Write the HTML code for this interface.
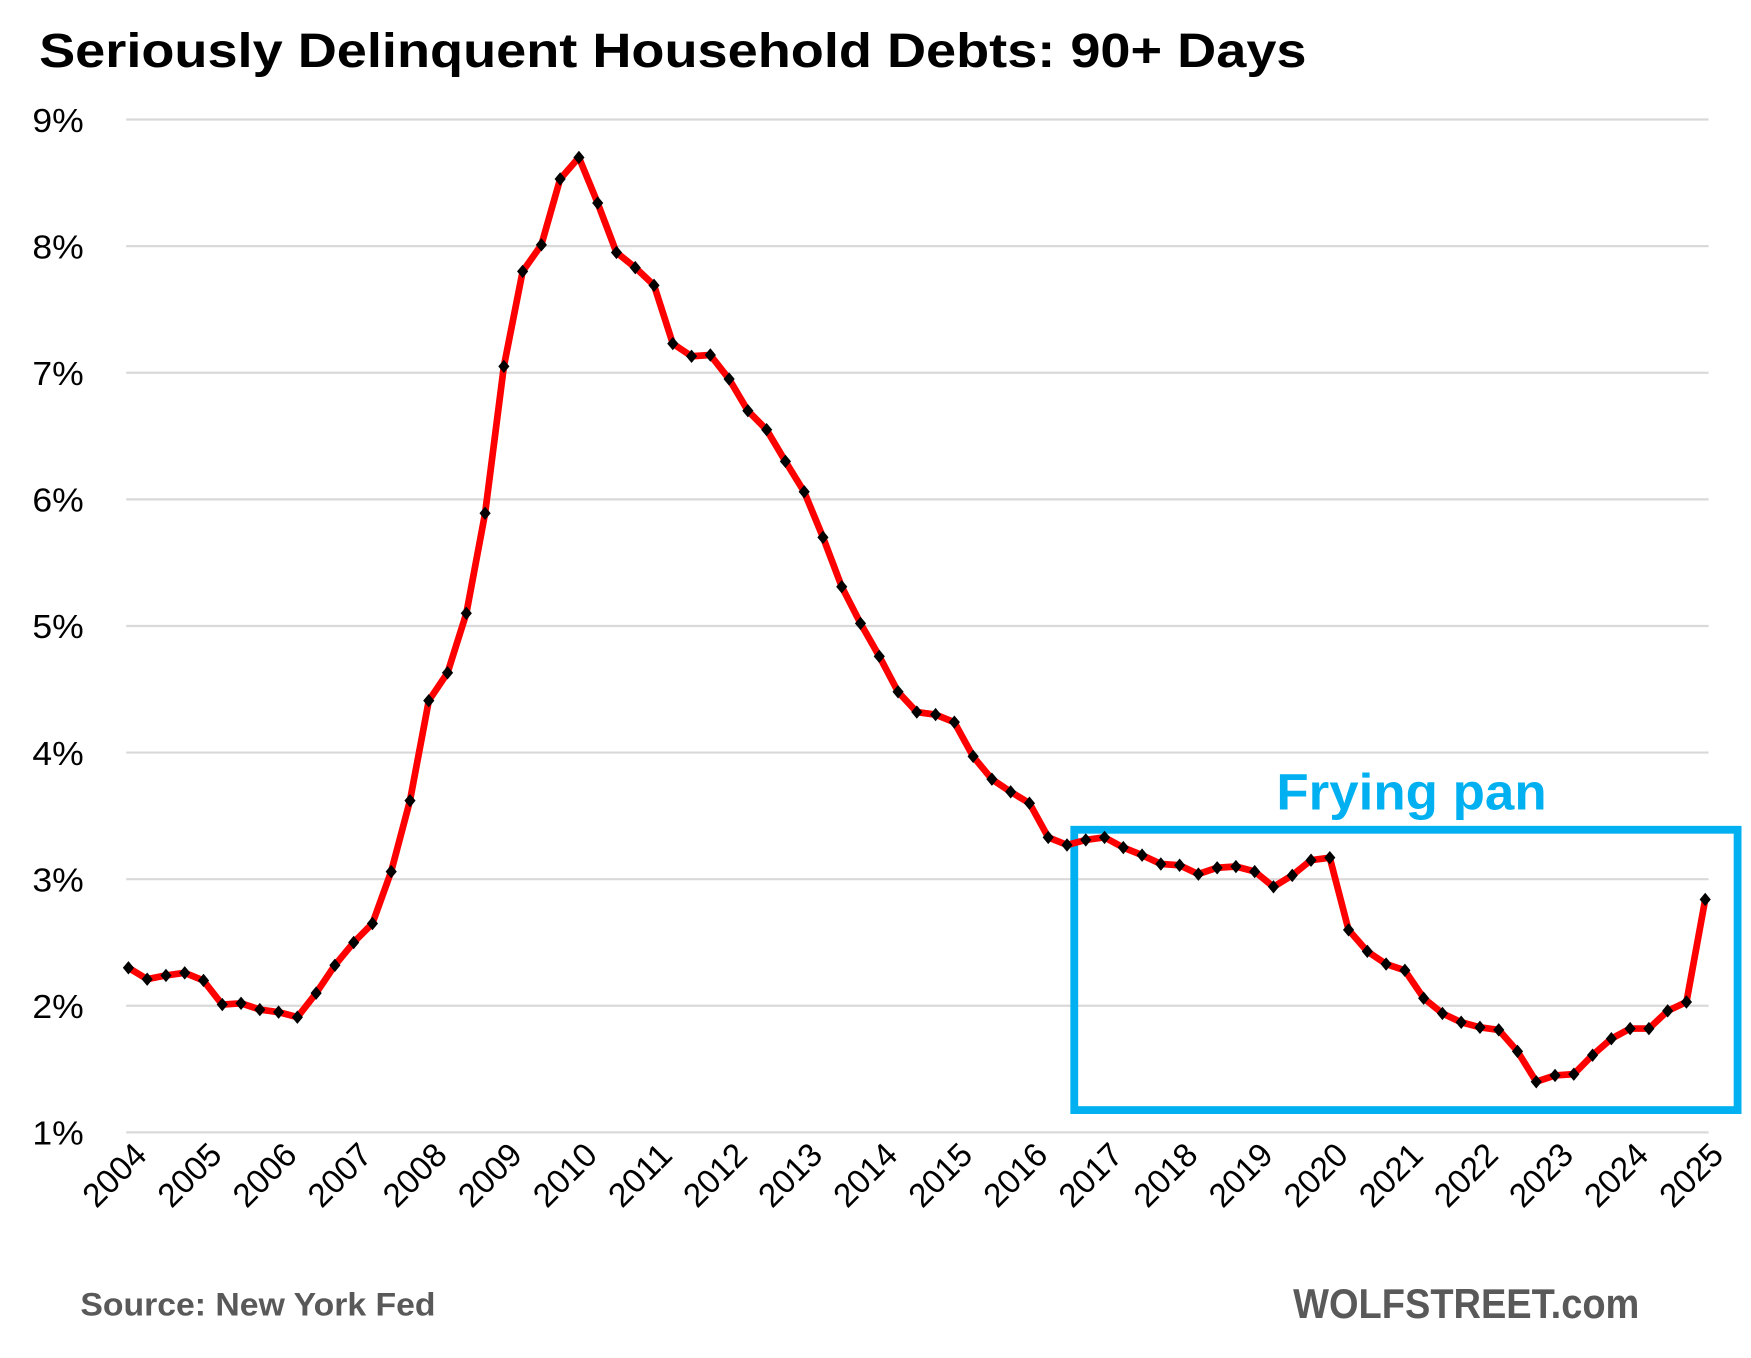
<!DOCTYPE html>
<html><head><meta charset="utf-8"><style>
html,body{margin:0;padding:0;background:#fff;}
svg{display:block;}
</style></head><body>
<svg id="c" width="1751" height="1358" viewBox="0 0 1568 1216" preserveAspectRatio="none" xmlns="http://www.w3.org/2000/svg" font-family="'Liberation Sans', sans-serif">
<text x="35" y="60" font-size="43" font-weight="bold" textLength="1135" lengthAdjust="spacingAndGlyphs" fill="#000">Seriously Delinquent Household Debts: 90+ Days</text>
<g id="grid" stroke="#d9d9d9" stroke-width="2"></g>
<g id="ylab" font-size="30" fill="#000" text-anchor="end"></g>
<g id="xlab" font-size="30" fill="#000" text-anchor="end"></g>
<rect x="962" y="743" width="594" height="251" fill="none" stroke="#00B0F0" stroke-width="7"/>
<text x="1143" y="725" font-size="46" font-weight="bold" fill="#00B0F0" textLength="242" lengthAdjust="spacingAndGlyphs">Frying pan</text>
<polyline id="line" fill="none" stroke="#ff0000" stroke-width="6" stroke-linejoin="round"/>
<g id="mk" fill="#000"></g>
<text x="72" y="1178" font-size="29" font-weight="bold" fill="#595959" textLength="318" lengthAdjust="spacingAndGlyphs">Source: New York Fed</text>
<text x="1158" y="1180" font-size="37" font-weight="bold" fill="#595959" textLength="310" lengthAdjust="spacingAndGlyphs">WOLFSTREET.com</text>
</svg>
<script>
var ns="http://www.w3.org/2000/svg";
function el(t,a,p){var e=document.createElementNS(ns,t);for(var k in a)e.setAttribute(k,a[k]);p.appendChild(e);return e;}
var y=function(v){return 1014-(v-1)*113.375;};
var x0=115,x1=1527;
var g=document.getElementById('grid'),yl=document.getElementById('ylab'),xl=document.getElementById('xlab');
for(var i=1;i<=9;i++){el('line',{x1:113,x2:1530,y1:y(i),y2:y(i)},g);var t=el('text',{x:75,y:y(i)+11,textLength:46,lengthAdjust:'spacingAndGlyphs'},yl);t.textContent=i+'%';}
for(var yr=2004;yr<=2025;yr++){var xx=x0+(yr-2004)*(x1-x0)/21;var t=el('text',{x:0,y:0,textLength:66,lengthAdjust:'spacingAndGlyphs',transform:'translate('+(xx+18)+',1036) rotate(-45)'},xl);t.textContent=yr;}
var d=[2.30,2.21,2.24,2.26,2.20,2.01,2.02,1.97,1.95,1.91,2.10,2.32,2.50,2.65,3.06,3.62,4.41,4.63,5.10,5.89,7.05,7.80,8.01,8.53,8.70,8.34,7.95,7.83,7.69,7.23,7.13,7.14,6.95,6.70,6.55,6.30,6.06,5.70,5.31,5.02,4.76,4.48,4.32,4.30,4.24,3.97,3.79,3.69,3.60,3.33,3.27,3.31,3.33,3.25,3.19,3.12,3.11,3.04,3.09,3.10,3.06,2.94,3.03,3.15,3.17,2.60,2.43,2.33,2.28,2.06,1.94,1.87,1.83,1.81,1.64,1.40,1.45,1.46,1.61,1.74,1.82,1.82,1.96,2.03,2.84];
var pts=[],mk=document.getElementById('mk');
for(var i=0;i<d.length;i++){var px=x0+i*(x1-x0)/84,py=y(d[i]);pts.push(px.toFixed(1)+','+py.toFixed(1));
el('polygon',{points:px+','+(py-6)+' '+(px+5)+','+py+' '+px+','+(py+6)+' '+(px-5)+','+py},mk);}
document.getElementById('line').setAttribute('points',pts.join(' '));
</script>
</body></html>
